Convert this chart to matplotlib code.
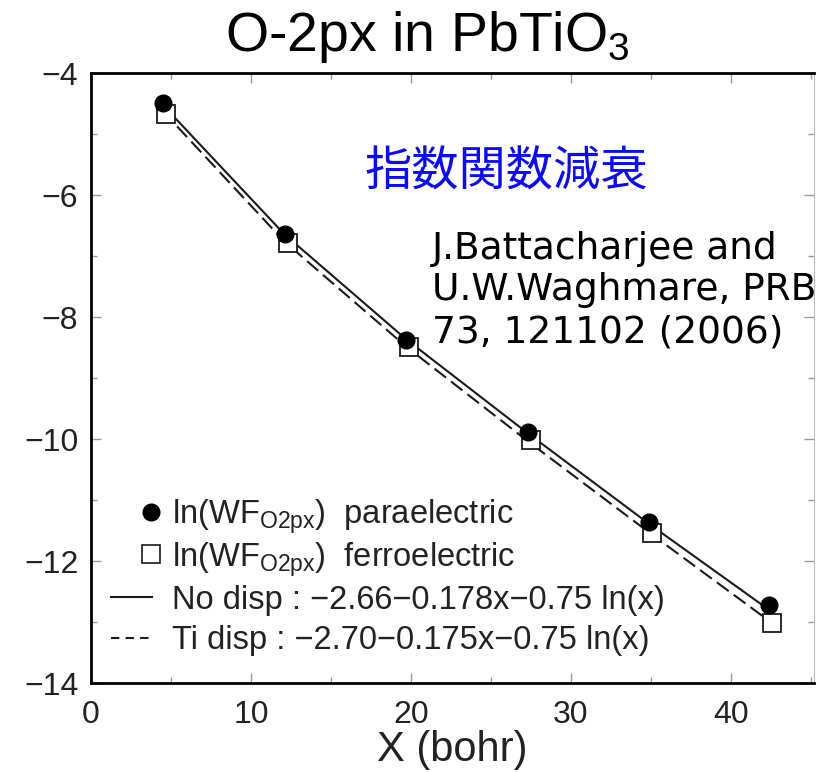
import matplotlib
matplotlib.use("Agg")
import matplotlib.pyplot as plt
from matplotlib.lines import Line2D
from matplotlib.ticker import MultipleLocator

# values
x_para = [4.5, 12.1, 19.7, 27.3, 34.9, 42.4]
y_para = [-4.49, -6.64, -8.37, -9.88, -11.36, -12.72]
x_ferro = [4.7, 12.3, 19.9, 27.5, 35.1, 42.6]
y_ferro = [-4.66, -6.78, -8.48, -10.01, -11.53, -13.01]
# fitted curves as drawn in the picture
x_fit = [4.5, 12.1, 19.7, 27.3, 34.9, 42.4]
y_nodisp = [-4.52, -6.64, -8.36, -9.90, -11.39, -12.80]
y_tidisp = [-4.62, -6.76, -8.48, -10.03, -11.53, -12.98]

marker_labels = [r"ln(WF$_{\mathrm{O2px}}$)  paraelectric",
                 r"ln(WF$_{\mathrm{O2px}}$)  ferroelectric"]
line_labels = ["No disp : \u22122.66\u22120.178x\u22120.75 ln(x)",
               "Ti disp : \u22122.70\u22120.175x\u22120.75 ln(x)"]

plt.rcParams["font.family"] = ["Liberation Sans", "DejaVu Sans"]
plt.rcParams["mathtext.fontset"] = "custom"
plt.rcParams["mathtext.rm"] = "Liberation Sans"
plt.rcParams["axes.unicode_minus"] = True

fig = plt.figure(figsize=(8.19, 7.72), dpi=100)
ax = fig.add_axes([0.111, 0.115, 0.883, 0.79])

ink = "#1a1a1a"
ax.plot(x_fit, y_nodisp, "-", color=ink, lw=1.5)
ax.plot(x_fit, y_tidisp, "--", color=ink, lw=1.5, dashes=(7, 3))
ax.plot(x_ferro, y_ferro, "s", mfc="white", mec=ink, mew=1.3, ms=13.5, zorder=3)
ax.plot(x_para, y_para, "o", color="black", ms=12, zorder=5)

ax.set_xlim(0, 45.2)
ax.set_ylim(-14, -4)
ax.xaxis.set_major_locator(MultipleLocator(10))
ax.xaxis.set_minor_locator(MultipleLocator(5))
ax.yaxis.set_major_locator(MultipleLocator(2))
ax.yaxis.set_minor_locator(MultipleLocator(1))
ax.tick_params(which="both", direction="in", top=True, right=True,
               color="#999999", width=1)
ax.tick_params(which="major", length=7, labelsize=23, labelcolor="#222222")
ax.tick_params(axis="x", which="major", pad=12)
ax.tick_params(axis="y", which="major", pad=9)
ax.tick_params(which="minor", length=4)
for s in ["left", "bottom", "top"]:
    ax.spines[s].set_linewidth(2)
ax.spines["right"].set_linewidth(0.8)
ax.spines["right"].set_color("#bbbbbb")
ax.set_xlabel("X (bohr)", fontsize=30, color="#222222", labelpad=0)

h_markers = [Line2D([], [], ls="none", marker="o", color="black", ms=12),
             Line2D([], [], ls="none", marker="s", mfc="white", mec=ink, mew=1.2, ms=13)]
h_lines = [Line2D([], [], ls="-", color=ink, lw=1.5),
           Line2D([], [], ls="--", color=ink, lw=1.5, dashes=(4, 3))]
leg1 = ax.legend(h_markers, marker_labels, loc="center left",
                 bbox_to_anchor=(0.0605, 0.2385), frameon=False, fontsize=23.5,
                 handlelength=1.0, handletextpad=0.14, labelspacing=0.12,
                 borderpad=0, borderaxespad=0, labelcolor="#222222")
ax.add_artist(leg1)
ax.legend(h_lines, line_labels, loc="center left",
          bbox_to_anchor=(0.0277, 0.103), frameon=False, fontsize=23.5,
          handlelength=1.26, handletextpad=0.61, labelspacing=0.3,
          borderpad=0, borderaxespad=0, labelcolor="#222222")

ax.text(0.574, 0.838, "指数関数減衰", transform=ax.transAxes, ha="center", va="center",
        fontsize=34, color="#0a0aff", family=["Noto Sans CJK JP", "DejaVu Sans"])
ax.text(0.472, 0.644, "J.Battacharjee and\nU.W.Waghmare, PRB\n73, 121102 (2006)",
        transform=ax.transAxes, ha="left", va="center", fontsize=27,
        color="black", family="DejaVu Sans", linespacing=1.2)

fig.text(0.522, 0.952, r"O-2px in PbTiO$_3$", ha="center", va="center",
         fontsize=40, family=["Liberation Sans", "DejaVu Sans"], color="black")

fig.savefig("out.png", dpi=100)
